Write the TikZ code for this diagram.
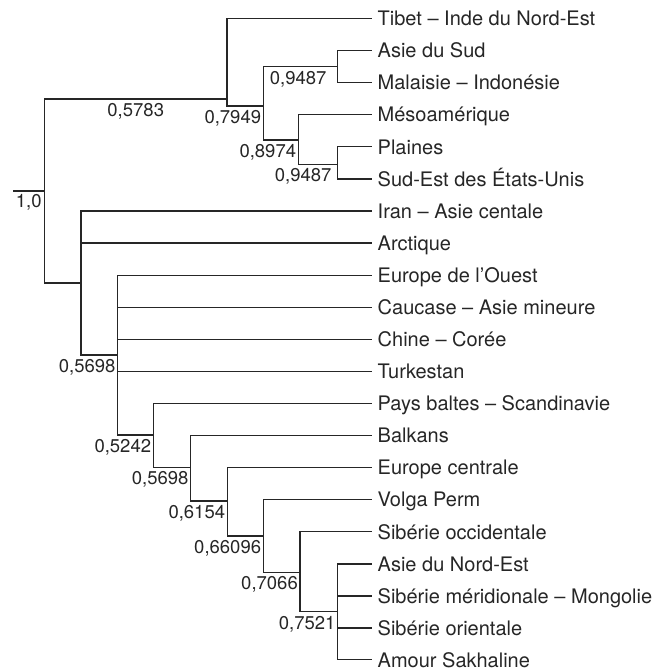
\documentclass[tikz,border=0pt]{standalone}
\usepackage{fontspec}
\setmainfont{TeX Gyre Heros}
\definecolor{ink}{RGB}{38,38,38}
\tikzset{
	branch/.style={draw=ink, line width=1.2pt},
	leaf/.style={anchor=west, text=ink, inner xsep=5.5pt, inner ysep=0pt, text height=14.4pt, text depth=0pt, font=\fontsize{20}{24}\selectfont},
	sim/.style={anchor=north east, text=ink, inner xsep=2pt, inner ysep=4pt, font=\fontsize{18.5}{22}\selectfont}
}
\begin{document}
\begin{tikzpicture}[x=1pt, y=-1pt]
		\useasboundingbox (0,0) rectangle (669,670);
		
		% Regions
		\node[leaf] (tibet) at (372, 18.5) {Tibet – Inde du Nord-Est};
		\node[leaf] (asud) at (372, 50.6) {Asie du Sud};
		\node[leaf] (malaisie) at (372, 82.7) {Malaisie – Indonésie};
		\node[leaf] (meso) at (372, 114.7) {Mésoamérique};
		\node[leaf] (plaines) at (372, 146.8) {Plaines};
		\node[leaf] (sudest) at (372, 178.9) {Sud-Est des États-Unis};
		\node[leaf] (iran) at (372, 211) {Iran – Asie centale};
		\node[leaf] (arctique) at (372, 243) {Arctique};
		\node[leaf] (eouest) at (372, 275.1) {Europe de l’Ouest};
		\node[leaf] (caucase) at (372, 307.2) {Caucase – Asie mineure};
		\node[leaf] (chine) at (372, 339.3) {Chine – Corée};
		\node[leaf] (turk) at (372, 371.4) {Turkestan};
		\node[leaf] (baltes) at (372, 403.5) {Pays baltes – Scandinavie};
		\node[leaf] (balkans) at (372, 435.5) {Balkans};
		\node[leaf] (ecentr) at (372, 467.6) {Europe centrale};
		\node[leaf] (volga) at (372, 499.7) {Volga Perm};
		\node[leaf] (sibocc) at (372, 531.8) {Sibérie occidentale};
		\node[leaf] (asiene) at (372, 563.9) {Asie du Nord-Est};
		\node[leaf] (sibmer) at (372, 596) {Sibérie méridionale – Mongolie};
		\node[leaf] (siborient) at (372, 628) {Sibérie orientale};
		\node[leaf] (amour) at (372, 659.8) {Amour Sakhaline};
		
		% Junctions
		\coordinate (stub) at (13, 191);
		\coordinate (root) at (44.5, 191);
		\coordinate (t) at (227, 99);
		\coordinate (n7949) at (263.3, 106);
		\coordinate (n9487a) at (337.7, 66.7);
		\coordinate (n8974) at (298.3, 140);
		\coordinate (n9487b) at (337.7, 164.3);
		\coordinate (b1) at (81, 283);
		\coordinate (b2) at (117.7, 355);
		\coordinate (b3) at (153.3, 435);
		\coordinate (b4) at (190.7, 467.3);
		\coordinate (b5) at (227.3, 501);
		\coordinate (b6) at (263.3, 536);
		\coordinate (b7) at (300, 572.3);
		\coordinate (b8) at (337.7, 611.7);
		
		% Root
		\draw[branch] (stub) -- (root) node[midway, sim, anchor=north, inner ysep=2.5pt] {1,0};
		\draw[branch] (root) |- (t) node[pos=0.75, sim, anchor=north] {0,5783};
		\draw[branch] (root) |- (b1);
		
		% Upper cluster
		\foreach \c in {tibet, n7949} \draw[branch] (t) |- (\c);
		\foreach \c in {n9487a, n8974} \draw[branch] (n7949) |- (\c);
		\foreach \c in {asud, malaisie} \draw[branch] (n9487a) |- (\c);
		\foreach \c in {meso, n9487b} \draw[branch] (n8974) |- (\c);
		\foreach \c in {plaines, sudest} \draw[branch] (n9487b) |- (\c);
		
		% Lower cluster
		\foreach \c in {iran, arctique, b2} \draw[branch] (b1) |- (\c);
		\foreach \c in {eouest, caucase, chine, turk, b3} \draw[branch] (b2) |- (\c);
		\foreach \c in {baltes, b4} \draw[branch] (b3) |- (\c);
		\foreach \c in {balkans, b5} \draw[branch] (b4) |- (\c);
		\foreach \c in {ecentr, b6} \draw[branch] (b5) |- (\c);
		\foreach \c in {volga, b7} \draw[branch] (b6) |- (\c);
		\foreach \c in {sibocc, b8} \draw[branch] (b7) |- (\c);
		\foreach \c in {asiene, sibmer, siborient, amour} \draw[branch] (b8) |- (\c);
		
		% Similarities
		\node[sim] (s7949) at (n7949) {0,7949};
		\node[sim, xshift=-9pt] (s9487a) at (n9487a) {0,9487};
		\node[sim] (s8974) at (n8974) {0,8974};
		\node[sim, xshift=-4pt] (s9487b) at (n9487b) {0,9487};
		\node[sim] (s5698a) at (b2) {0,5698};
		\node[sim] (s5242) at (b3) {0,5242};
		\node[sim] (s5698b) at (b4) {0,5698};
		\node[sim] (s6154) at (b5) {0,6154};
		\node[sim] (s66096) at (b6) {0,66096};
		\node[sim] (s7066) at (b7) {0,7066};
		\node[sim] (s7521) at (b8) {0,7521};
	\end{tikzpicture}
\end{document}
